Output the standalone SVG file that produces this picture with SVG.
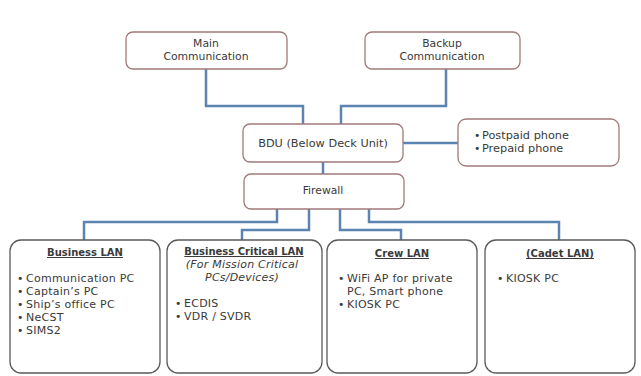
<svg xmlns="http://www.w3.org/2000/svg" width="641" height="376" viewBox="0 0 641 376">
  <style>
    .box { fill: #ffffff; stroke: #a07a78; stroke-width: 1.3; }
    .lan { fill: #ffffff; stroke: #5a5a5a; stroke-width: 1.3; }
    .wire { fill: none; stroke: #5b84b1; stroke-width: 2.5; }
    text { font-family: "DejaVu Sans", "Liberation Sans", sans-serif; font-size: 10.8px; fill: #3a3a3a; }
    .c { text-anchor: middle; }
    .b { font-size: 11px; letter-spacing: 0.25px; }
    .h { font-weight: bold; text-decoration: underline; font-size: 10px; }
    .i { font-style: italic; font-size: 11px; letter-spacing: 0.2px; }
  </style>
  <rect width="641" height="376" fill="#ffffff"/>

  <g id="connectors">
    <polyline class="wire" points="206,69 206,106 303,106 303,124"/>
    <polyline class="wire" points="446,69 446,106 341,106 341,124"/>
    <line class="wire" x1="403" y1="143" x2="458" y2="143"/>
    <line class="wire" x1="323" y1="162" x2="323" y2="174"/>
    <polyline class="wire" points="277,209 277,222 84,222 84,240"/>
    <polyline class="wire" points="309,209 309,230 242,230 242,240"/>
    <polyline class="wire" points="340,209 340,230 401,230 401,240"/>
    <polyline class="wire" points="369,209 369,222 559,222 559,240"/>
  </g>

  <g id="main-communication">
    <rect class="box" x="126" y="32" width="161" height="37" rx="7"/>
    <text class="c" x="206" y="47">Main</text>
    <text class="c" x="206" y="60">Communication</text>
  </g>

  <g id="backup-communication">
    <rect class="box" x="365" y="32" width="155" height="37" rx="7"/>
    <text class="c" x="442" y="47">Backup</text>
    <text class="c" x="442" y="60">Communication</text>
  </g>

  <g id="bdu">
    <rect class="box" x="243" y="124" width="160" height="38" rx="7"/>
    <text class="c" x="323" y="147" style="font-size:11.3px">BDU (Below Deck Unit)</text>
  </g>

  <g id="phones">
    <rect class="box" x="458" y="119" width="161" height="47" rx="8"/>
    <text x="474" y="139">•</text><text x="482" y="139" style="font-size:11.3px">Postpaid phone</text>
    <text x="474" y="152">•</text><text x="482" y="152" style="font-size:11.3px">Prepaid phone</text>
  </g>

  <g id="firewall">
    <rect class="box" x="244" y="174" width="160" height="35" rx="7"/>
    <text class="c" x="323" y="194">Firewall</text>
  </g>

  <g id="business-lan">
    <rect class="lan" x="10" y="240" width="150" height="133" rx="11"/>
    <text class="c h" x="85" y="256">Business  LAN</text>
    <text x="17" y="282">•</text><text class="b" x="26" y="282">Communication PC</text>
    <text x="17" y="295">•</text><text class="b" x="26" y="295">Captain’s PC</text>
    <text x="17" y="308">•</text><text class="b" x="26" y="308">Ship’s office PC</text>
    <text x="17" y="321">•</text><text class="b" x="26" y="321">NeCST</text>
    <text x="17" y="334">•</text><text class="b" x="26" y="334">SIMS2</text>
  </g>

  <g id="business-critical-lan">
    <rect class="lan" x="167" y="240" width="155" height="133" rx="11"/>
    <text class="c h" x="244" y="255">Business Critical LAN</text>
    <text class="c i" x="242" y="268">(For Mission  Critical</text>
    <text class="c i" x="242" y="281">PCs/Devices)</text>
    <text x="175" y="307">•</text><text class="b" x="184" y="307">ECDIS</text>
    <text x="175" y="320">•</text><text class="b" x="184" y="320">VDR / SVDR</text>
  </g>

  <g id="crew-lan">
    <rect class="lan" x="327" y="240" width="150" height="133" rx="11"/>
    <text class="c h" x="402" y="257">Crew LAN</text>
    <text x="338" y="282">•</text><text class="b" x="347" y="282">WiFi AP for private</text>
    <text class="b" x="347" y="295">PC, Smart phone</text>
    <text x="338" y="308">•</text><text class="b" x="347" y="308">KIOSK PC</text>
  </g>

  <g id="cadet-lan">
    <rect class="lan" x="485" y="240" width="150" height="133" rx="11"/>
    <text class="c h" x="560" y="257">(Cadet LAN)</text>
    <text x="497" y="282">•</text><text class="b" x="506" y="282">KIOSK PC</text>
  </g>
</svg>
